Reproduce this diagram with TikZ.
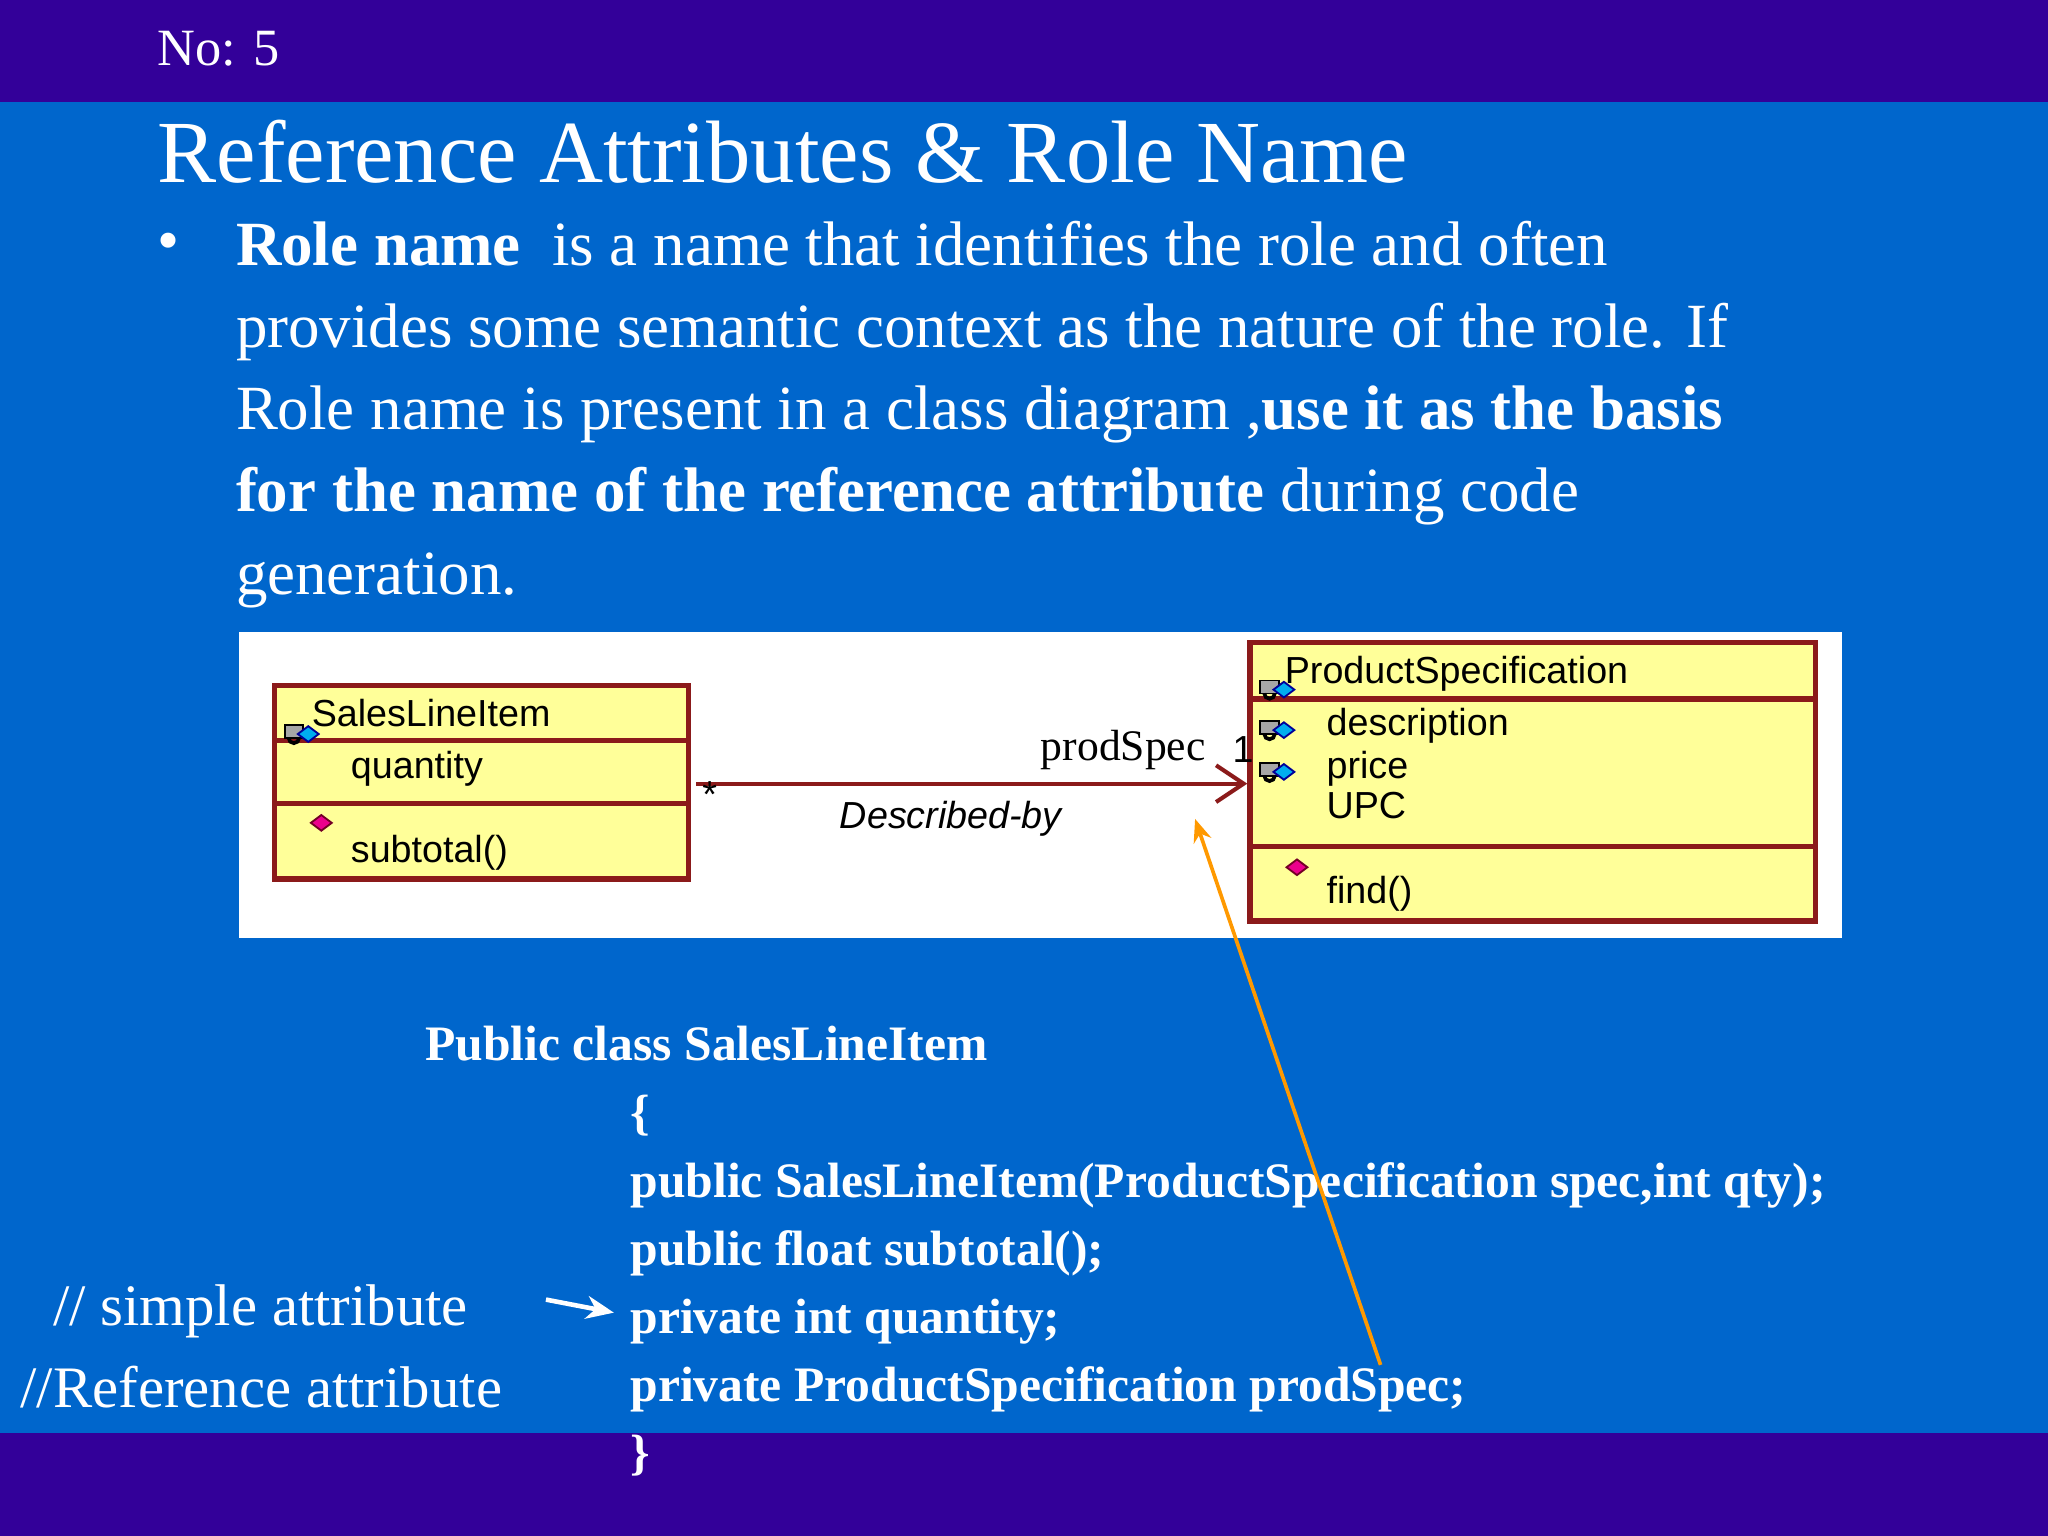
\documentclass[tikz,border=0pt]{standalone}
\usepackage{fontspec}
\setmainfont{Liberation Serif}
\setsansfont{Liberation Sans}
\usetikzlibrary{arrows.meta}
\definecolor{bar}{HTML}{330099}
\definecolor{bg}{HTML}{0066CC}
\definecolor{dred}{HTML}{8B1A1A}
\definecolor{cyel}{HTML}{FFFF99}
\tikzset{
 body/.style={anchor=base west,text=white,font=\fontsize{13.7}{16}\selectfont,inner sep=0},
 code/.style={anchor=base west,text=white,font=\bfseries\fontsize{10.8}{13}\selectfont,inner sep=0},
 cls/.style={draw=dred,line width=1.2pt,fill=cyel},
 uml/.style={anchor=base west,inner sep=0,font=\sffamily\fontsize{8.2}{10}\selectfont},
}
\newcommand{\attricon}[1]{%
 \fill[gray!70,draw=black,line width=0.4pt] ($(#1)+(-4,-6)$) rectangle ($(#1)+(10,-16)$);
 \draw[black,line width=0.8pt] ($(#1)+(-1,-6)$) arc (180:0:4);
 \fill[cyan,draw=blue!60!black,line width=0.4pt] ($(#1)+(6,-9)$) -- ++(8,-6) -- ++(8,6) -- ++(-8,6) -- cycle;}
\newcommand{\opicon}[1]{%
 \fill[magenta,draw=purple!60!black,line width=0.4pt] ($(#1)+(0,-6)$) -- ++(8,-6) -- ++(8,6) -- ++(-8,6) -- cycle;}
\usetikzlibrary{calc}
\begin{document}
\begin{tikzpicture}[x=0.01cm,y=-0.01cm]
\fill[bg] (0,0) rectangle (1568,1176);
\fill[bar] (0,0) rectangle (1568,78);
\fill[bar] (0,1097) rectangle (1568,1176);
\node[body,font=\fontsize{11.4}{13}\selectfont] (no) at (120,50) {No: 5};
\node[body,font=\fontsize{19.3}{22}\selectfont] (title) at (120,140) {Reference Attributes \& Role Name};
\node[body] (bul) at (120,200) {•};
\node[body] (l1) at (180,203) {\textbf{Role name}\ \ is a name that identifies the role and often};
\node[body] (l2) at (180,266) {provides some semantic context as the nature of the role. If};
\node[body] (l3) at (180,329) {Role name is present in a class diagram ,\textbf{use it as the basis}};
\node[body] (l4) at (180,392) {\textbf{for the name of the reference attribute} during code};
\node[body] (l5) at (180,455) {generation.};
% diagram
\fill[white] (183,484) rectangle (1410,718);
\draw[cls] (210,525) rectangle (527,673);
\draw[dred,line width=1.2pt] (210,567) -- (527,567) (210,615) -- (527,615);
\node[uml] (s1) at (238,556) {SalesLineItem};
\attricon{222,571}
\node[uml] (s2) at (268,596) {quantity};
\opicon{238,636}
\node[uml] (s3) at (268,660) {subtotal()};
\draw[cls] (957,492) rectangle (1390,705);
\draw[dred,line width=1.2pt] (957,535) -- (1390,535) (957,648) -- (1390,648);
\node[uml] (p1) at (983,523) {ProductSpecification};
\attricon{969,537}
\node[uml] (p2) at (1015,563) {description};
\attricon{969,568}
\node[uml] (p3) at (1015,596) {price};
\attricon{969,600}
\node[uml] (p4) at (1015,627) {UPC};
\opicon{985,670}
\node[uml] (p5) at (1015,692) {find()};
\coordinate (a1) at (533,600);
\coordinate (a2) at (955,600);
\draw[dred,line width=0.9pt,-{Straight Barb[length=6pt,width=8pt]}] (a1) -- (a2);
\node[uml] (star) at (537,618) {*};
\node[uml] (one) at (943,584) {1};
\node[anchor=base,inner sep=0,font=\fontsize{9.5}{11}\selectfont] (ps) at (860,582) {prodSpec};
\node[anchor=base,inner sep=0,font=\sffamily\itshape\fontsize{8.2}{10}\selectfont] (db) at (728,634) {Described-by};
% code
\node[code] (c0) at (325,812) {Public class SalesLineItem};
\node[code] (c1) at (482,865) {\{};
\node[code] (c2) at (482,917) {public SalesLineItem(ProductSpecification spec,int qty);};
\node[code] (c3) at (482,969) {public float subtotal();};
\node[code] (c4) at (482,1021) {private int quantity;};
\node[code] (c5) at (482,1073) {private ProductSpecification prodSpec;};
\node[code] (c6) at (482,1125) {\}};
\node[body,font=\fontsize{12.8}{15}\selectfont] (cm1) at (40,1015) {// simple attribute};
\node[body,font=\fontsize{12.8}{15}\selectfont] (cm2) at (15,1078) {//Reference attribute};
\coordinate (o1) at (1057,1045);
\coordinate (o2) at (915,627);
\draw[orange!80!yellow,line width=0.8pt,-{Stealth[length=5pt,width=4pt]}] (o1) -- (o2);
\coordinate (w1) at (418,995);
\coordinate (w2) at (470,1005);
\draw[white,line width=1pt,-{Stealth[length=6pt,width=5pt]}] (w1) -- (w2);
\end{tikzpicture}
\end{document}
